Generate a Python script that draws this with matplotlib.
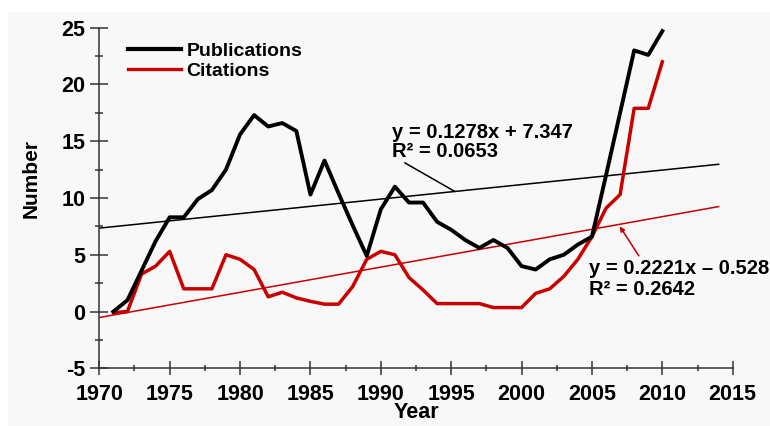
import numpy as np
import matplotlib
matplotlib.use("Agg")
import matplotlib.pyplot as plt
from matplotlib.lines import Line2D
from matplotlib.patches import Rectangle
from matplotlib.ticker import MultipleLocator

plt.rcParams["font.family"] = ["Liberation Sans", "DejaVu Sans"]
plt.rcParams["font.weight"] = "bold"
plt.rcParams["axes.unicode_minus"] = False

years = np.arange(1971, 2011)
publications = [0.0, 1.0, 3.6, 6.2, 8.3, 8.3, 9.9, 10.7, 12.5, 15.6,
                17.3, 16.3, 16.6, 15.9, 10.3, 13.3, 10.4, 7.6, 4.9, 9.0,
                11.0, 9.6, 9.6, 7.9, 7.2, 6.3, 5.6, 6.3, 5.6, 4.0,
                3.7, 4.6, 5.0, 5.9, 6.6, 12.0, 17.5, 23.0, 22.6, 24.7]
citations = [-0.1, 0.0, 3.3, 4.0, 5.3, 2.0, 2.0, 2.0, 5.0, 4.6,
             3.7, 1.3, 1.7, 1.2, 0.9, 0.65, 0.65, 2.2, 4.6, 5.3,
             5.0, 3.0, 1.9, 0.7, 0.7, 0.7, 0.7, 0.35, 0.35, 0.35,
             1.6, 2.0, 3.1, 4.6, 6.6, 9.1, 10.3, 17.9, 17.9, 22.0]

# linear fits, x counted in years from 1970
pub_fit = (0.1278, 7.347)
cit_fit = (0.2221, -0.528)
fit_x = np.array([0, 44])

red = "#c80000"

fig = plt.figure(figsize=(7.7, 4.26), dpi=100, facecolor="white")
fig.patches.append(Rectangle((8 / 770, 0), 1, 1 - 12 / 426, transform=fig.transFigure,
                             color="#f8f8f8", zorder=-10))
ax = fig.add_axes([99.3 / 770, 1 - 368.3 / 426, 633.4 / 770, 340.6 / 426])
ax.set_facecolor("none")

ax.plot(1970 + fit_x, cit_fit[0] * fit_x + cit_fit[1], color=red, lw=1.1)
ax.plot(1970 + fit_x, pub_fit[0] * fit_x + pub_fit[1], color="black", lw=1.1)
ax.plot(years, citations, color=red, lw=2.5)
ax.plot(years, publications, color="black", lw=2.8)

ax.set_xlim(1970, 2015)
ax.set_ylim(-5, 25)
for s in ["top", "right"]:
    ax.spines[s].set_visible(False)
for s in ["left", "bottom"]:
    ax.spines[s].set_linewidth(1.1)
    ax.spines[s].set_color("#333333")

ax.xaxis.set_major_locator(MultipleLocator(5))
ax.xaxis.set_minor_locator(MultipleLocator(2.5))
ax.yaxis.set_major_locator(MultipleLocator(5))
ax.yaxis.set_minor_locator(MultipleLocator(2.5))
ax.tick_params(axis="x", which="major", direction="inout", length=10, width=1.1,
               color="#333333", labelsize=15.5, pad=6)
ax.tick_params(axis="x", which="minor", direction="inout", length=5, width=1.1, color="#333333")
ax.tick_params(axis="y", which="major", direction="inout", length=13, width=1.1,
               color="#333333", labelsize=15.5, pad=3.6)
ax.tick_params(axis="y", which="minor", direction="inout", length=6, width=1.1, color="#333333")
for lab in ax.get_xticklabels() + ax.get_yticklabels():
    lab.set_fontweight("bold")

fig.text(416 / 770, 1 - 413 / 426, "Year", fontsize=15.5, fontweight="bold",
         ha="center", va="center")
fig.text(31 / 770, 1 - 178 / 426, "Number", fontsize=15, fontweight="bold",
         rotation=90, ha="center", va="center")

handles = [Line2D([], [], color="black", lw=3.0), Line2D([], [], color=red, lw=2.4)]
ax.legend(handles, ["Publications", "Citations"], loc="upper left",
          bbox_to_anchor=(128 / 770, 1 - 42 / 426), bbox_transform=fig.transFigure,
          frameon=False, borderpad=0, borderaxespad=0, handlelength=2.7,
          handletextpad=0.3, labelspacing=0.12, prop={"size": 14, "weight": "bold"})

# equation labels with leader lines
ax.text(1990.79, 15.3, "y = 0.1278x + 7.347", fontsize=14.5, fontweight="bold", va="baseline")
ax.text(1990.79, 13.62, "R² = 0.0653", fontsize=14.5, fontweight="bold", va="baseline")
ax.annotate("", xy=(1995.26, pub_fit[0] * 25.26 + pub_fit[1]), xytext=(1991.7, 13.1),
            arrowprops=dict(arrowstyle="-", color="black", lw=1.1, shrinkA=0, shrinkB=0))

ax.text(2004.8, 3.31, "y = 0.2221x – 0.528", fontsize=14.5, fontweight="bold", va="baseline")
ax.text(2004.8, 1.46, "R² = 0.2642", fontsize=14.5, fontweight="bold", va="baseline")
ax.annotate("", xy=(2006.98, 7.5), xytext=(2008.33, 4.9),
            arrowprops=dict(arrowstyle="-|>", color=red, lw=1.1, mutation_scale=7,
                            shrinkA=0, shrinkB=0))

fig.savefig("out.png", dpi=100, facecolor=fig.get_facecolor())
